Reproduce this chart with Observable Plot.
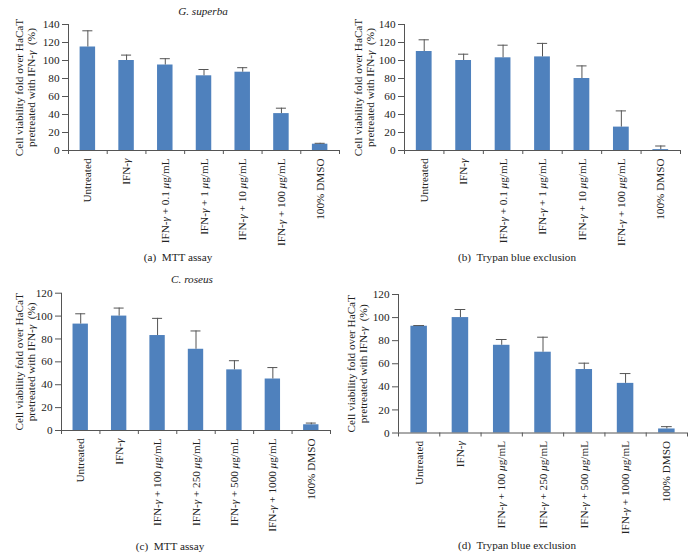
<!DOCTYPE html>
<html><head><meta charset="utf-8">
<script src="https://cdn.jsdelivr.net/npm/d3@7"></script>
<script src="https://cdn.jsdelivr.net/npm/@observablehq/plot@0.6"></script>
<style>
body{margin:0;background:#fff;}
#root{position:relative;width:694px;height:558px;font-family:"Liberation Serif",serif;color:#222;overflow:hidden;}
.panel{position:absolute;}
.cap,.title{position:absolute;font-size:11.2px;transform:translate(-50%,-50%);white-space:pre;line-height:1;}
.title{font-style:italic;}
</style></head>
<body><div id="root"></div>
<script>
const groupsGS = ["Untreated","IFN-γ","IFN-γ + 0.1 μg/mL","IFN-γ + 1 μg/mL","IFN-γ + 10 μg/mL","IFN-γ + 100 μg/mL","100% DMSO"];
const groupsCR = ["Untreated","IFN-γ","IFN-γ + 100 μg/mL","IFN-γ + 250 μg/mL","IFN-γ + 500 μg/mL","IFN-γ + 1000 μg/mL","100% DMSO"];
// (a) G. superba, MTT
const mttGS = [115,100,95,83,87,41,7];
const mttGSErr = [18,6,7,7,5,6,1];
// (b) G. superba, Trypan blue
const trypanGS = [110,100,103,104,80,26,1];
const trypanGSErr = [13,7,14,15,14,18,4];
// (c) C. roseus, MTT
const mttCR = [93,100,83,71,53,45,5];
const mttCRErr = [9,7,15,16,8,10,1.5];
// (d) C. roseus, Trypan blue
const trypanCR = [92.5,100,76,70,55,43,3.5];
const trypanCRErr = [0.6,7,5,13,5.5,8.5,2];
const yTicksA = [0,20,40,60,80,100,120,140];
const yTicksC = [0,20,40,60,80,100,120];
const yLabel = "Cell viability fold over HaCaT\npretreated with IFN-γ  (%)";

const root = document.getElementById("root");

function italicize(node) {
  node.querySelectorAll("text").forEach(t => {
    const targets = t.querySelector("tspan") ? [...t.querySelectorAll("tspan")] : [t];
    targets.forEach(el => {
      const s = el.textContent;
      if (!/[γμ]/.test(s)) return;
      el.textContent = "";
      s.split(/([γμ])/).forEach(part => {
        if (!part) return;
        const ts = document.createElementNS("http://www.w3.org/2000/svg", "tspan");
        ts.textContent = part;
        if (part === "γ" || part === "μ") ts.setAttribute("font-style", "italic");
        el.appendChild(ts);
      });
    });
  });
}

function panel(o) {
  const n = o.cats.length;
  const data = o.cats.map((c, i) => ({i, c, v: o.vals[i], e: o.errs[i]}));
  const plot = Plot.plot({
    width: o.width, height: o.height,
    marginTop: o.mt, marginBottom: o.mb, marginLeft: o.ml, marginRight: o.mr,
    style: {fontFamily: "Liberation Serif, serif", fontSize: "11.2px", color: "#222", background: "transparent", overflow: "visible"},
    x: {domain: [0, n], axis: null},
    y: {domain: [0, o.ymax], axis: null},
    marks: [
      Plot.rectY(data, {x1: d => d.i + 0.3, x2: d => d.i + 0.7, y: "v", fill: "#4F81BD"}),
      Plot.ruleX(data, {x: d => d.i + 0.5, y1: "v", y2: d => d.v + d.e, stroke: "#555", strokeWidth: 1}),
      Plot.ruleY(data, {y: d => d.v + d.e, x1: d => d.i + 0.37, x2: d => d.i + 0.63, stroke: "#555", strokeWidth: 1}),
      Plot.ruleX([0], {stroke: "#555"}),
      Plot.ruleY([0], {stroke: "#555"}),
      Plot.axisY(o.yticks, {tickSize: 6, tickPadding: 3, label: null, stroke: "#555", fill: "#222"}),
      Plot.axisX(d3.range(n + 1), {tickSize: 4, tickFormat: () => "", label: null, stroke: "#555"}),
      Plot.axisX(d3.range(n).map(i => i + 0.5), {tickSize: 0, tickPadding: 8, tickRotate: -90, tickFormat: v => o.cats[Math.floor(v)], label: null, fill: "#222"}),
      Plot.text([yLabel], {frameAnchor: "left", rotate: -90, dx: o.ldx, lineAnchor: "middle", textAnchor: "middle", lineHeight: 1.08, fill: "#222"})
    ]
  });
  italicize(plot);
  const wrap = document.createElement("div");
  wrap.className = "panel";
  wrap.style.left = o.left + "px";
  wrap.style.top = o.top + "px";
  wrap.appendChild(plot);
  root.appendChild(wrap);
}

function label(cls, text, x, y) {
  const d = document.createElement("div");
  d.className = cls;
  d.style.left = x + "px";
  d.style.top = y + "px";
  d.innerHTML = text;
  root.appendChild(d);
}

panel({left: 0, top: 0, width: 347, height: 250, mt: 24, mb: 100, ml: 68, mr: 8, ymax: 140, yticks: yTicksA, cats: groupsGS, vals: mttGS, errs: mttGSErr, ldx: -43});
panel({left: 347, top: 0, width: 347, height: 250, mt: 24, mb: 100, ml: 57, mr: 14, ymax: 140, yticks: yTicksA, cats: groupsGS, vals: trypanGS, errs: trypanGSErr, ldx: -40});
panel({left: 0, top: 270, width: 347, height: 270, mt: 22.7, mb: 110, ml: 61, mr: 17, ymax: 120, yticks: yTicksC, cats: groupsCR, vals: mttCR, errs: mttCRErr, ldx: -36});
panel({left: 347, top: 270, width: 347, height: 270, mt: 24, mb: 107.5, ml: 51, mr: 7, ymax: 120, yticks: yTicksC, cats: groupsCR, vals: trypanCR, errs: trypanCRErr, ldx: -41});

label("title", "G. superba", 203, 12);
label("title", "C. roseus", 192, 280);
label("cap", "(a)  MTT assay", 178, 258);
label("cap", "(b)  Trypan blue exclusion", 517, 258);
label("cap", "(c)  MTT assay", 170, 547);
label("cap", "(d)  Trypan blue exclusion", 517, 546);
</script>
</body></html>
